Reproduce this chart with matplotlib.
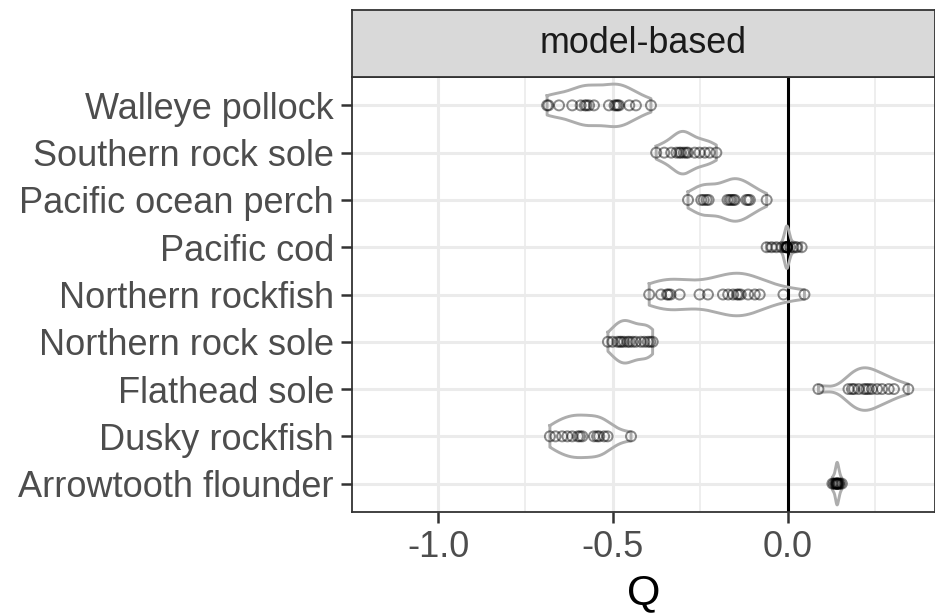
import numpy as np
import matplotlib
matplotlib.use("Agg")
import matplotlib.pyplot as plt

plt.rcParams['font.family'] = ['Liberation Sans', 'DejaVu Sans']

# Species, bottom to top (alphabetical, as in the factor order)
species = ["Arrowtooth flounder", "Dusky rockfish", "Flathead sole",
           "Northern rock sole", "Northern rockfish", "Pacific cod",
           "Pacific ocean perch", "Southern rock sole", "Walleye pollock"]

arrowtooth_flounder = [0.128, 0.132, 0.136, 0.138, 0.140, 0.141, 0.142,
                       0.143, 0.145, 0.147, 0.150, 0.155]
dusky_rockfish = [-0.680, -0.664, -0.645, -0.630, -0.616, -0.600, -0.594,
                  -0.587, -0.554, -0.545, -0.539, -0.525, -0.515, -0.448]
flathead_sole = [0.088, 0.174, 0.184, 0.190, 0.203, 0.218, 0.225, 0.232,
                 0.241, 0.256, 0.270, 0.289, 0.304, 0.345]
northern_rock_sole = [-0.514, -0.501, -0.487, -0.480, -0.475, -0.468, -0.458,
                      -0.452, -0.443, -0.434, -0.420, -0.410, -0.400, -0.393,
                      -0.386]
northern_rockfish = [-0.396, -0.362, -0.345, -0.341, -0.335, -0.309, -0.252,
                     -0.228, -0.185, -0.170, -0.156, -0.145, -0.140, -0.134,
                     -0.113, -0.094, -0.080, -0.012, 0.048]
pacific_cod = [-0.060, -0.046, -0.032, -0.017, -0.008, -0.004, -0.003,
               -0.002, -0.002, -0.001, 0.000, 0.007, 0.016, 0.026, 0.040]
pacific_ocean_perch = [-0.285, -0.247, -0.240, -0.232, -0.226, -0.172, -0.166,
                       -0.161, -0.155, -0.151, -0.118, -0.113, -0.108, -0.060]
southern_rock_sole = [-0.376, -0.353, -0.333, -0.318, -0.310, -0.305, -0.297,
                      -0.290, -0.285, -0.266, -0.252, -0.237, -0.223, -0.204]
walleye_pollock = [-0.688, -0.684, -0.654, -0.616, -0.592, -0.580, -0.575,
                   -0.568, -0.554, -0.511, -0.495, -0.490, -0.486, -0.482,
                   -0.453, -0.434, -0.391]

series = [arrowtooth_flounder, dusky_rockfish, flathead_sole,
          northern_rock_sole, northern_rockfish, pacific_cod,
          pacific_ocean_perch, southern_rock_sole, walleye_pollock]

x_ticks = [-1.0, -0.5, 0.0]
x_ticklabels = ["-1.0", "-0.5", "0.0"]
x_minor = [-0.75, -0.25, 0.25]
panel_title = "model-based"
x_label = "Q"


def kde(values, grid):
    v = np.asarray(values, float)
    n = len(v)
    sd = v.std(ddof=1)
    iqr = np.subtract(*np.percentile(v, [75, 25]))
    lo = min(sd, iqr / 1.34) if iqr > 0 else sd
    bw = 0.9 * lo * n ** (-0.2)
    z = (grid[:, None] - v[None, :]) / bw
    return np.exp(-0.5 * z ** 2).sum(axis=1) / (n * bw * np.sqrt(2 * np.pi))


W, H = 935, 613
fig = plt.figure(figsize=(W / 100, H / 100), dpi=100)
left, right, bottom, top = 352 / W, 934.5 / W, 1 - 512 / H, 1 - 77 / H
ax = fig.add_axes([left, bottom, right - left, top - bottom])

grid_col = "#ebebeb"
for x in x_ticks:
    ax.axvline(x, color=grid_col, lw=2.2, zorder=0)
for x in x_minor:
    ax.axvline(x, color=grid_col, lw=1.2, zorder=0)
for i in range(len(species)):
    ax.axhline(i + 1, color=grid_col, lw=2.2, zorder=0)

ax.axvline(0, color="black", lw=2.2, zorder=1)

half_width = 0.45
for i, vals in enumerate(series):
    y0 = i + 1
    g = np.linspace(min(vals), max(vals), 512)
    d = kde(vals, g)
    d = d / d.max() * half_width
    xs = np.concatenate([g, g[::-1], g[:1]])
    ys = np.concatenate([y0 + d, (y0 - d)[::-1], [y0 + d[0]]])
    ax.plot(xs, ys, color="#adadad", lw=2.1, zorder=2, solid_joinstyle="round")
    ax.scatter(vals, np.full(len(vals), y0), s=52, facecolors="none",
               edgecolors=(0, 0, 0, 0.45), linewidths=1.4, zorder=3)

ax.set_xlim(-1.246, 0.42)
ax.set_ylim(0.4, len(species) + 0.6)
ax.set_xticks(x_ticks)
ax.set_xticklabels(x_ticklabels)
ax.set_yticks(range(1, len(species) + 1))
ax.set_yticklabels(species)
ax.tick_params(axis="both", labelsize=26, labelcolor="#4d4d4d",
               color="#333333", width=1.8, length=8, pad=5)
for s in ax.spines.values():
    s.set_color("#333333")
    s.set_linewidth(1.3)
ax.set_xlabel(x_label, fontsize=31, color="black", labelpad=6)

# facet strip
strip = fig.add_axes([left, top, right - left, (77 - 10) / H])
strip.set_xticks([])
strip.set_yticks([])
strip.set_facecolor("#d9d9d9")
for s in strip.spines.values():
    s.set_color("#333333")
    s.set_linewidth(1.3)
strip.text(0.5, 0.5, panel_title, ha="center", va="center",
           fontsize=25.8, color="#1a1a1a", transform=strip.transAxes)

fig.savefig("out.png", dpi=100)
